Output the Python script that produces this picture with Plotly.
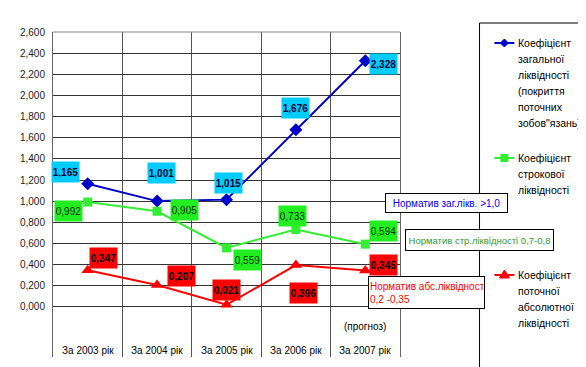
import plotly.graph_objects as go

# ---------------- data ----------------
categories = ["За 2003 рік", "За 2004 рік", "За 2005 рік", "За 2006 рік", "За 2007 рік"]
general_liq = [1.165, 1.001, 1.015, 1.676, 2.328]
term_liq = [0.992, 0.905, 0.559, 0.733, 0.594]
abs_liq = [0.347, 0.207, 0.021, 0.396, 0.345]
y_tick_vals = [0.0, 0.2, 0.4, 0.6, 0.8, 1.0, 1.2, 1.4, 1.6, 1.8, 2.0, 2.2, 2.4, 2.6]
y_tick_text = ["0,000", "0,200", "0,400", "0,600", "0,800", "1,000", "1,200",
               "1,400", "1,600", "1,800", "2,000", "2,200", "2,400", "2,600"]

legend_general = ["Коефіцієнт", "загальної", "ліквідності", "(покриття", "поточних", "зобов\"язань)"]
legend_term = ["Коефіцієнт", "строкової", "ліквідності"]
legend_abs = ["Коефіцієнт", "поточної", "абсолютної", "ліквідності"]
norm_general = "Норматив заг.лікв. >1,0"
norm_term = "Норматив стр.ліквідності 0,7-0,8"
norm_abs = "Норматив абс.ліквідності<br>0,2 -0,35"
forecast_note = "(прогноз)"

# ---------------- layout geometry ----------------
W, H = 586, 367
L, R, T, B = 43, 194, 24, 18
PW, PH = W - L - R, H - T - B
FONT = "Liberation Sans, Arial, sans-serif"


def X(px):
    return (px - L) / PW


def Y(py):
    return (H - B - py) / PH


BLUE = "#0000CC"
GREEN = "#33EE33"
RED = "#FF0000"

fig = go.Figure()
fig.add_trace(go.Scatter(x=categories, y=general_liq, mode="lines+markers",
                         line=dict(color=BLUE, width=2),
                         marker=dict(symbol="diamond", size=10, color=BLUE),
                         showlegend=False))
fig.add_trace(go.Scatter(x=categories, y=term_liq, mode="lines+markers",
                         line=dict(color=GREEN, width=2),
                         marker=dict(symbol="square", size=9, color=GREEN),
                         showlegend=False))
fig.add_trace(go.Scatter(x=categories, y=abs_liq, mode="lines+markers",
                         line=dict(color=RED, width=2),
                         marker=dict(symbol="triangle-up", size=11, color=RED),
                         showlegend=False))

annotations = []


def fmt(v):
    return f"{v:.3f}".replace(".", ",")


# label offsets (pixels) relative to each point
gen_off = [(-22, 12), (4, 28), (2, 17), (0, 22), (18, -3)]
term_off = [(-19, -9), (27, 1), (21, -12), (-3, 13), (18, 13)]
abs_off = [(16, 12), (24, 9), (0, 15), (8, -28), (18, 5)]

for series, offs, bg, col, bold in [
    (general_liq, gen_off, "#00CCFF", "#000033", True),
    (term_liq, term_off, "#22EE22", "#003300", False),
    (abs_liq, abs_off, "#FF0000", "#000000", True),
]:
    for c, v, (dx, dy) in zip(categories, series, offs):
        txt = fmt(v)
        if bold:
            txt = "<b>" + txt + "</b>"
        annotations.append(dict(x=c, y=v, xref="x", yref="y", text=txt,
                                showarrow=False, xshift=dx, yshift=dy,
                                bgcolor=bg, width=27, height=20, borderpad=0,
                                font=dict(family=FONT, size=10, color=col)))

# category labels (drawn inside the lower strip of the plot)
for c in categories:
    annotations.append(dict(x=c, y=Y(342), xref="x", yref="paper", text=c,
                            showarrow=False, yanchor="middle",
                            font=dict(family=FONT, size=10, color="#000000")))

# forecast note
annotations.append(dict(x=categories[4], y=Y(318), xref="x", yref="paper",
                        text=forecast_note, showarrow=False, yanchor="middle",
                        font=dict(family=FONT, size=10, color="#000000")))

# normative boxes
annotations.append(dict(x=X(438.5), y=Y(195), xref="paper", yref="paper",
                        text=norm_general, showarrow=False, bgcolor="white",
                        bordercolor="#000000", borderwidth=1, borderpad=1,
                        width=119, height=16, xanchor="center", yanchor="middle",
                        font=dict(family=FONT, size=10, color="#0000FF")))
annotations.append(dict(x=X(471.5), y=Y(232), xref="paper", yref="paper",
                        text=norm_term, showarrow=False, bgcolor="white",
                        bordercolor="#000000", borderwidth=1, borderpad=1,
                        width=145, height=18, xanchor="center", yanchor="middle",
                        font=dict(family=FONT, size=9.5, color="#339933")))
annotations.append(dict(x=X(418.5), y=Y(284.5), xref="paper", yref="paper",
                        text=norm_abs, showarrow=False, bgcolor="white", align="left",
                        bordercolor="#000000", borderwidth=1, borderpad=1,
                        width=113, height=29, xanchor="center", yanchor="middle",
                        font=dict(family=FONT, size=10, color="#FF0000")))

# manual legend text
for lines, y0 in [(legend_general, 35), (legend_term, 150), (legend_abs, 267)]:
    for i, ln in enumerate(lines):
        annotations.append(dict(x=X(509), y=Y(y0 + 16 * i), xref="paper", yref="paper",
                                text=ln, showarrow=False, xanchor="left", yanchor="middle",
                                font=dict(family=FONT, size=10.5, color="#000000")))

shapes = []
# top border of plot
shapes.append(dict(type="line", xref="paper", yref="paper", x0=0, x1=1, y0=1, y1=1,
                   line=dict(color="#888888", width=1)))
# legend box
shapes.append(dict(type="rect", xref="paper", yref="paper", x0=X(472), x1=X(579),
                   y0=Y(15), y1=Y(362), line=dict(color="#000000", width=1),
                   fillcolor="rgba(0,0,0,0)"))


def path_pts(pts):
    return "M " + " L ".join(f"{X(a):.5f},{Y(b):.5f}" for a, b in pts) + " Z"


for yc, col, kind in [(35, BLUE, "diamond"), (150, GREEN, "square"), (267, RED, "tri")]:
    shapes.append(dict(type="line", xref="paper", yref="paper", x0=X(487), x1=X(507),
                       y0=Y(yc), y1=Y(yc), line=dict(color=col, width=2)))
    cx = 497
    if kind == "diamond":
        pts = [(cx, yc - 4), (cx + 4, yc), (cx, yc + 4), (cx - 4, yc)]
    elif kind == "square":
        pts = [(cx - 3.5, yc - 3.5), (cx + 3.5, yc - 3.5), (cx + 3.5, yc + 3.5), (cx - 3.5, yc + 3.5)]
    else:
        pts = [(cx, yc - 5), (cx + 5, yc + 3), (cx - 5, yc + 3)]
    shapes.append(dict(type="path", xref="paper", yref="paper", path=path_pts(pts),
                       fillcolor=col, line=dict(color=col, width=1)))

fig.update_layout(
    width=W, height=H,
    margin=dict(l=L, r=R, t=T, b=B, pad=0),
    paper_bgcolor="white", plot_bgcolor="white",
    font=dict(family=FONT, size=10, color="#000000"),
    showlegend=False,
    annotations=annotations,
    shapes=shapes,
    xaxis=dict(type="category", range=[-0.5, 4.5], tickson="boundaries",
               showgrid=True, gridcolor="#555555", gridwidth=1,
               showline=False, zeroline=False, ticks="", showticklabels=False),
    yaxis=dict(range=[-0.473, 2.6], tickvals=y_tick_vals, ticktext=y_tick_text,
               showgrid=True, gridcolor="#333333", gridwidth=1, zeroline=False,
               showline=True, linecolor="#666666", mirror=True, ticks="",
               ticklabelstandoff=5,
               tickfont=dict(family=FONT, size=10, color="#222222")),
)

fig.write_html("out.html")
